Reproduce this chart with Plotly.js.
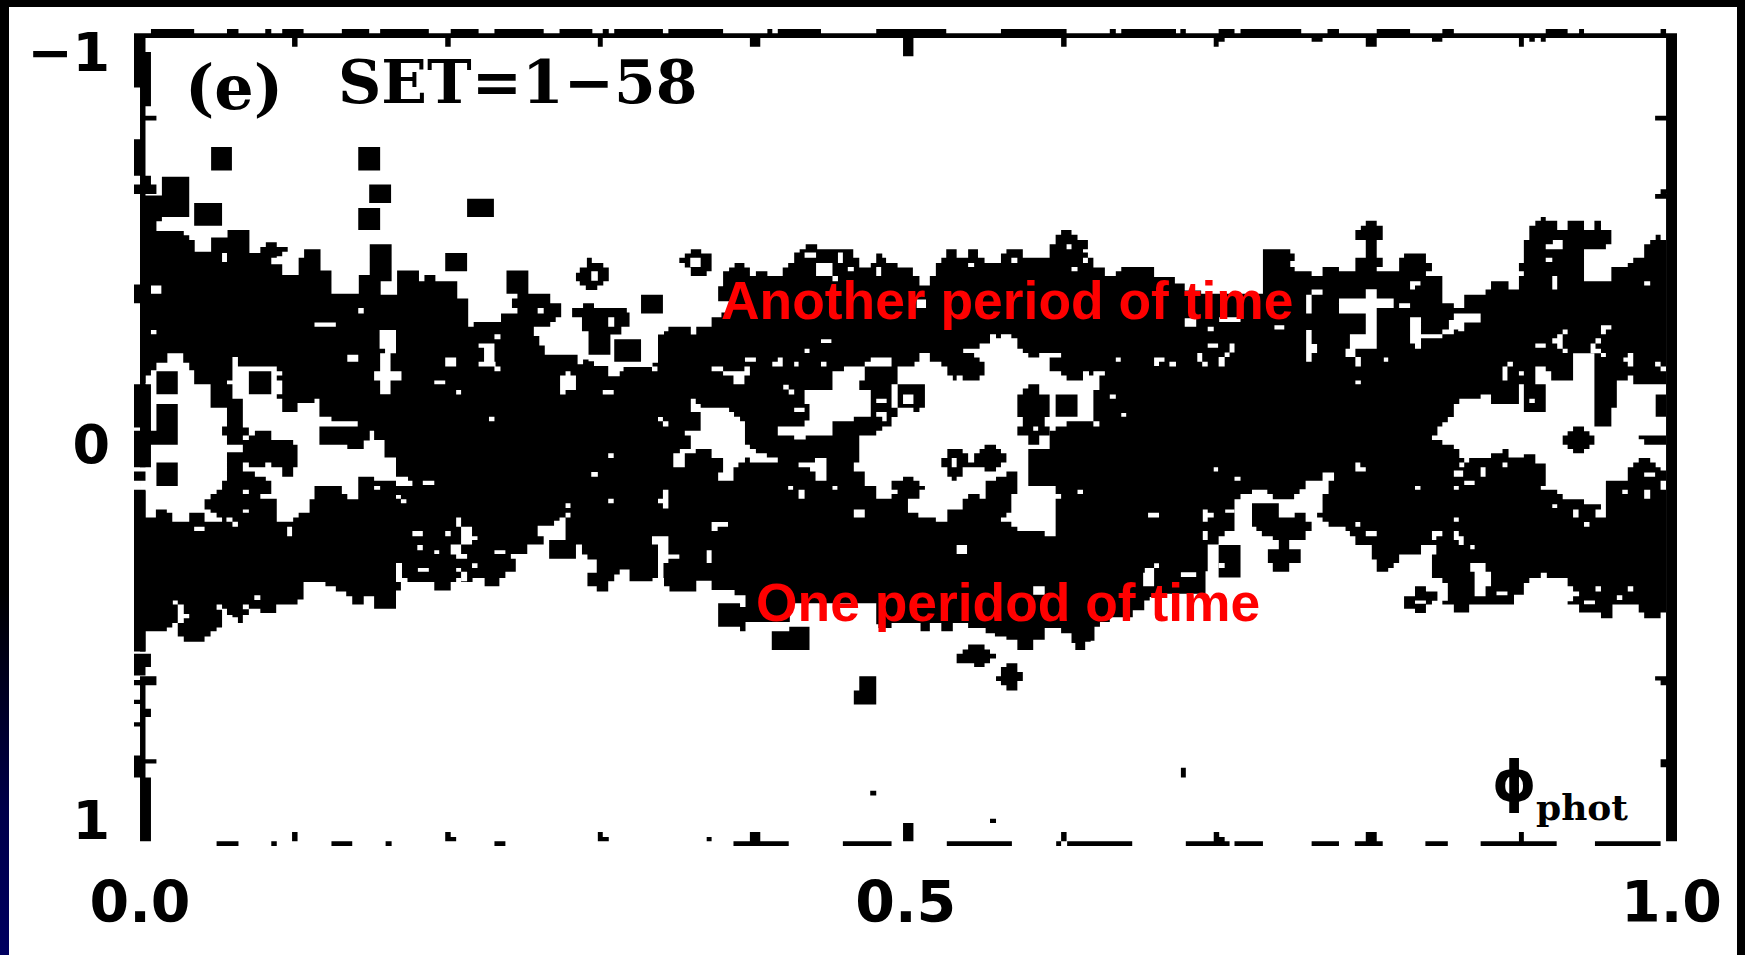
<!DOCTYPE html>
<html><head><meta charset="utf-8">
<script src="https://cdn.plot.ly/plotly-3.0.1.min.js"></script>
<style>
html,body{margin:0;padding:0;background:#fff;width:1745px;height:955px;overflow:hidden}
#plot{position:absolute;left:0;top:0;width:1745px;height:955px}
.bar{position:absolute;pointer-events:none}
</style></head><body>
<div id="plot"></div>
<div class="bar" style="left:0;top:0;width:1745px;height:7px;background:#000"></div>
<div class="bar" style="left:0;top:0;width:9px;height:955px;background:linear-gradient(#000 0,#000 62%,#00004a 85%,#000060 100%)"></div>
<div class="bar" style="left:1737px;top:0;width:8px;height:955px;background:#000"></div>
<script>
// All marks in raster bins: column 0..280 spans phase 0..1, row 0..172 spans phi -1..1.
var binsX = 280, binsY = 172;
var xTickValues = [0, 0.5, 1], xTickLabels = ["0.0", "0.5", "1.0"];
var yTickValues = [-0.96, 0.012, 0.945], yTickLabels = ["\u22121", "0", "1"];

var bandUpperEdge = [[0,34],[4,34],[4,30],[9,30],[9,38.6],[5,38.6],[4,39.5],[3,41.6],[8,42.5],[9,43.5],[10,46],[13,46],[13,43],[16,43],[16,41.4],[20,41.4],[20,46.3],[22,45],[23,44],[25,43.5],[25,45],[27,46],[26,47],[25,47.3],[24,48.7],[26,51],[29,51],[29,48.7],[29,47.3],[30,45.5],[31,45.5],[33,47.3],[33,50],[35,51],[35,55],[37,56],[37,55],[40,55],[40,51],[42,51],[42,44.4],[46,44.4],[46,52.3],[44,52.3],[44,55.2],[47,55.2],[47,50],[51,50],[51,52.3],[52,52.3],[52,51],[54,51],[54,52.3],[58,53.2],[58,56],[60,57],[60,62],[61,61],[66,61],[66,59.2],[68,59.2],[69,58],[68,56],[69,55],[67,55],[67,50],[71,50],[71,55],[73,55],[75,57],[77,58.4],[77,60],[76,61],[75,62],[73,62],[72,64],[73,66],[74,68],[80,68],[80,70],[81,69],[82,70],[82,63],[80.8,60],[79,59],[79,58],[81,58],[81,57],[83,57],[83,58],[88,58],[89,59],[89.5,60],[89.5,62],[88.4,62],[88,63.7],[86,63.7],[86,68],[82,68],[82,69.4],[83,70.4],[85.6,70.4],[85.6,72.6],[87.4,72.6],[87.7,71.5],[88.4,70.6],[92.6,70.6],[93.7,69.7],[94.7,68.7],[94.7,63.7],[95.8,63],[96.6,62],[99.6,62],[100.7,63.7],[101.7,63.7],[101.7,62],[102.5,62],[104.5,60],[106.3,59],[107.7,56.6],[105.7,55],[105.7,53.4],[106.6,50.2],[107.7,49.4],[108.7,48.4],[109.5,48.4],[110.5,49.4],[111.5,51.2],[112.6,50.2],[114.7,50.2],[114.7,51.2],[116.6,51.2],[117.5,49.4],[118.5,48.4],[119.6,46.2],[120.6,45.5],[121.7,44.4],[123.4,44.4],[123.8,45.5],[130.4,45.5],[130.4,47.3],[131.5,49.4],[133.4,49.4],[133.6,48.4],[134.6,46.4],[135.7,47.3],[136.4,48.4],[138.5,48.4],[138.5,49.4],[140.4,49.4],[141.3,51.2],[142.5,52.3],[142.5,53.2],[143.4,53.2],[144.4,51.2],[145.5,48.4],[146.5,47.3],[147.4,45.5],[148.4,45.5],[149.3,47.3],[150.7,47.3],[151.4,45.5],[152.5,45.5],[153.2,47.3],[154.4,48.4],[156.5,48.4],[157.4,46.4],[158.4,45.5],[160.4,45.5],[161.4,47.3],[165.4,47.3],[166.3,46.4],[166.3,44.4],[167.4,42.4],[168.4,41.4],[170.3,41.4],[170.3,42.4],[171.4,43.5],[173.3,44.4],[173.3,45.5],[172.4,46.2],[173.3,47.3],[174.3,48.4],[174.3,49.4],[175.4,49.4],[176.4,51.2],[177.3,51.2],[178.4,50.2],[179.4,49.3],[185.4,49.3],[185.4,51.4],[188.3,51.4],[189.2,52.8],[191,54.3],[194,55],[205.3,55],[205.3,45.5],[210.3,45.5],[210.3,46.4],[211.1,46.4],[211.1,48],[210.3,48.4],[210.3,49.3],[211.1,50.2],[214.2,50.2],[214.2,51.2],[215.2,51.2],[216.2,49.3],[219.2,49.3],[219.2,50.2],[222.2,50.2],[222.2,47.3],[223.2,47.3],[224.1,46.4],[224.1,43.5],[222.2,43.5],[222.2,41.4],[223.2,40.5],[224.1,39.4],[226.1,39.4],[226.1,40.5],[227.2,41.4],[227.2,43.5],[226.1,43.5],[226.1,47.3],[227.2,47.3],[227.2,49.3],[226.1,50.2],[230.2,50.2],[230.2,48.4],[229.3,48.4],[230.2,47.3],[231.1,46.4],[234.1,46.4],[235.1,48.4],[236.2,48.4],[236.2,50.2],[235.1,51.2],[238.1,51.2],[238.1,57],[240.2,57],[240.2,58],[242.1,58],[242.1,55.2],[245.1,55.2],[246,54.1],[247,52.3],[249.1,52.3],[250.2,54.1],[252.1,54.1],[252.1,51.2],[253,50.2],[252.1,48.4],[253,47.3],[253,43.5],[254,43.5],[254,40.5],[255.1,39.4],[256.1,38.6],[257,38.6],[257,39.4],[259.1,40.5],[259.1,41.4],[260.1,41.4],[261,39.4],[263.1,39.4],[264,41.4],[265.9,41.4],[265.9,39.4],[267.1,39.4],[267.1,41.4],[269,41.4],[269,44.4],[268,44.4],[268,45.5],[264,45.5],[264,52.3],[268,52.3],[269,51.2],[269,49.3],[272,49.3],[272,48.4],[273,47.3],[275,47.3],[275,44.4],[276.1,43.5],[277.1,42.4],[278,42.4],[278,43.5],[281,43.5]];

var bandLowerEdge = [[279,123],[278,123],[278,124.2],[276,124.2],[275,123],[274,121.3],[271.2,121.3],[269.2,122.4],[269.2,124.2],[267.1,124.2],[267.1,123],[264,123],[263.1,121.3],[261,120.6],[262,119.5],[263.1,118.5],[262,117.4],[261,115.6],[259.1,115.6],[257.2,114.5],[256.1,115.6],[254,116.7],[253,116.7],[253,119.2],[251.2,121.3],[247,121.3],[246,121.3],[244,121.3],[243,123],[241,123],[240.2,121.3],[238.1,120.5],[239.1,118.5],[239.1,116.7],[238.1,115.6],[237.2,115.6],[236.2,113.8],[236.2,110.6],[237,108.6],[235.1,108.6],[234.2,110.6],[230.2,110.6],[230.2,112.4],[229.2,113.5],[228.2,114.3],[226.1,114.3],[226.1,111.7],[225.2,110.6],[225.2,108.6],[222.2,108.6],[222.2,106.7],[221.2,105.6],[220.4,104.7],[218.3,104.7],[217.3,103.6],[216.2,102.7],[215.2,101.7],[216.2,101],[216.2,97.7],[217.3,94.9],[218.3,93.1],[217.2,93.1],[216.2,94.9],[213.1,94.9],[213.1,96.7],[212,97.7],[211,98.8],[207.1,97.7],[206.1,96.8],[204.2,96.8],[203.3,97.7],[201.2,98.8],[200.1,99.7],[200.1,105.6],[198.3,106.7],[197.2,108.5],[195.2,108.5],[195.2,114.2],[194.8,119],[186.7,119.7],[184.6,120.4],[183.6,122.5],[181.5,124],[177.3,125],[175.5,126],[174.5,127.2],[174.5,129],[173.8,129.2],[172.8,131],[171,129.5],[170.3,127.4],[168.4,126.3],[165.4,126.3],[165.4,128.8],[163.3,131],[160.4,131],[160.4,128.8],[158.4,128.1],[156.3,127.4],[154.6,126.3],[151.4,125.2],[148.6,127],[146.5,125.2],[144.4,127],[142.7,125.2],[138.5,125.2],[137.4,126.3],[135,125.5],[134.6,125.5],[134.6,121],[118.8,121],[118.8,125],[112.5,125],[110.7,126],[110.7,127],[109.7,127],[109.7,126],[105.7,126],[105.7,121],[109.7,121],[109.7,121.8],[110.7,121.8],[110.7,119.3],[108.7,119.3],[108.7,118.2],[105.5,118.2],[104.5,117.2],[104.5,116.2],[101.7,116.7],[101.7,118.5],[97.9,118.5],[96.8,117.4],[95.8,115.6],[93.7,116.3],[89.5,116.3],[89.5,113.8],[88.7,113.8],[87.7,114.9],[86.7,116.3],[85.6,117.4],[85.6,118.5],[83.5,118.5],[83.5,117.4],[81.8,116.3],[81.8,114.5],[83.5,113.5],[83.5,111.7],[81.8,110.6],[80.8,109.5],[80.8,108.5],[79.7,108.5],[79.7,111.5],[74.8,111.5],[74.8,107.5],[77.8,107.5],[77.8,102.7],[76.7,103.4],[75.7,104.5],[72.7,104.9],[72.7,106.7],[73.8,106.7],[73.8,108.5],[70.8,108.6],[70.8,110.5],[66.8,110.5],[67.8,111.5],[68.7,112.4],[68.7,114.3],[67.8,114.3],[66.8,115.6],[65.7,117.4],[64,117.4],[63,115.6],[60.8,116.5],[58.7,115.6],[57.8,116.5],[56.8,118.3],[54.9,118.3],[53.8,116.5],[49.8,116.5],[48.9,115.6],[47.9,115.6],[47.9,112.4],[46.8,113.5],[46.8,116.5],[47.7,116.5],[47.7,118.3],[46.8,118.5],[46.8,122.2],[42.8,122.2],[42.8,119.5],[42,119.5],[40.9,121.3],[39.8,121.3],[38.8,119.5],[37.7,118.5],[35.8,117.4],[33.9,116.5],[32.8,115.6],[32.8,116.5],[29.9,116.5],[29.9,120.2],[28.8,121.3],[26,121.3],[24.9,123.1],[23,123.1],[22,122.2],[19.9,123.5],[18.8,124.2],[18.8,125.2],[17.9,125.2],[17.9,124],[16.9,123.5],[15.9,122.2],[15,121.3],[14,122.4],[15,124.2],[15,126.2],[14,127],[12.9,128.1],[11.8,129.2],[9,129.2],[8,128.1],[6.9,127],[6.9,125.2],[5.9,126.2],[4.9,127],[2,127],[1,126.2],[1,131.3],[0,131.3]];

var holeLeft = [[1,72.4],[2,71.3],[3,69.7],[5,69.7],[5,67.7],[7.9,67.7],[7.9,69.7],[9.9,69.7],[9,70.6],[9,71.3],[9.9,72.4],[9.9,74.3],[12.9,74.3],[12.9,79.3],[15.9,79.3],[15.9,83.3],[15,83.5],[15,85.2],[15.9,85.2],[15.9,87.2],[18.8,87.2],[18.8,88.8],[15.9,89.2],[15.9,94.9],[15,94.9],[15,96.8],[14,97.7],[12.9,98.8],[11.8,99.9],[11.8,101],[12.9,101.7],[14,102.7],[15,102.7],[15,103.6],[12.9,103.6],[11.8,101.7],[9.9,101.7],[9,103.6],[6.9,103.6],[5.9,101.7],[4.9,101],[3.9,101],[2.9,102.7],[2,102.7],[1,101.7],[1,97],[0,97],[0,92],[2,92],[2,87.2],[5.9,87.2],[6.9,86],[6.9,78.5],[3.9,78.5],[3,79.5],[3,84.2],[2,84.2],[2,74.3],[1,74.3]];
var holeSecond = [[16.9,68.5],[17.9,68.5],[17.9,70.5],[25,70.5],[25,71.5],[26,71.5],[26,72.4],[25,72.4],[25,73.5],[26,73.5],[26,76.4],[25,76.4],[25,77.4],[26,77.4],[26,78.3],[25,78.3],[26,79.3],[26,80.2],[28.8,80.2],[28.8,78.3],[31.9,78.3],[31.9,77.4],[32.8,77.4],[32.8,81.2],[35,81.2],[35,82.2],[39.8,82.2],[39.8,83.3],[32.8,83.3],[32.8,87.2],[37.9,87.2],[37.9,88.1],[39.8,88.1],[40.9,86.3],[42,86.3],[42,84.2],[42.8,84.2],[42.8,86.2],[44.7,87.2],[44.7,89.9],[46.8,89.9],[46.8,94],[49,94],[49,94.9],[49.8,94.9],[49.8,96],[47.7,96],[46.8,96.8],[46.8,94.9],[42.8,94.9],[42.8,94],[39.9,94],[39.9,98.8],[38.9,98.8],[37.9,97.7],[36.9,96],[32.8,96],[31.9,96.8],[31.9,98.8],[31,98.8],[31,101.7],[29.9,101.7],[29,101],[29,102.7],[28,102.7],[28,103.6],[26,103.6],[25,102.7],[25,98.7],[22,98.7],[22,97.7],[24,96.8],[24,94.9],[23,94],[22,94],[21,92.9],[18.8,94],[18.8,91],[19.9,91],[19.9,92],[22.9,92],[22.9,91],[24,91],[24,92],[26,92.9],[26,94],[28,94],[28,92],[28.8,92],[28.8,87.2],[28,86.2],[24,86.2],[24,84.2],[22,84.2],[21,85.2],[19.9,86.2],[18.8,85.2],[19.9,85.2],[19.9,83.5],[18.8,83.5],[18.8,77.4],[16.9,77.4],[16.9,74.3],[15.9,74.3],[15.9,73.5],[16.9,72.4]];
var holeStar = [[100.7,77.4],[101.6,77.4],[101.6,78.5],[102.5,79.3],[107.7,79.3],[107.7,80.2],[108.6,81.2],[109.7,82.2],[110.6,82.2],[110.6,87.2],[111.5,88.1],[112.6,89],[114.6,89.9],[116.6,89.9],[116.6,91],[111.5,89.9],[110.6,91],[109.4,92],[108.5,93.1],[108.5,94.9],[105.7,94.9],[105.7,93.1],[106.6,93.1],[106.6,90],[104.5,88.1],[102.5,88.1],[101.6,89],[99.6,91],[99.6,92],[96.6,92],[97.5,91],[97.5,89],[98.7,88.1],[100.7,87.2],[100.7,85.2],[99.6,85.2],[99.6,84.2],[102.5,84.2],[102.5,80.2],[100.7,80.2]];
var holeWing = [[116.6,83.3],[121.5,83.3],[121.5,82],[122.4,81.3],[122.4,78.5],[121.5,77.4],[121.5,75.5],[122.4,75.5],[126.6,74.2],[126.6,71.5],[128.7,71.5],[128.7,70.5],[132.5,70.5],[132.5,69.5],[133.6,69.5],[133.6,68.6],[136.4,68.6],[137.4,69.5],[137.4,70.5],[133.6,70.5],[132.5,71.5],[132.5,73.5],[131.5,73.5],[131.5,75.5],[133.6,76.5],[133.6,81.2],[130.5,81.2],[130.5,82.2],[126.6,82.2],[126.6,85.2],[121.7,85.2],[121.7,86.1],[119.6,86.1],[119.6,85.2],[116.6,85.2]];
var holeCentre = [[138.5,70.5],[141.6,70.5],[141.6,69.5],[142.5,69.5],[142.5,67.6],[143.5,67.6],[144.4,69.5],[146.5,69.5],[146.5,70.5],[147.6,71.5],[147.6,72.4],[148.6,73.5],[149.3,72.4],[150.4,72.4],[150.4,73.5],[153.5,73.5],[153.5,72.4],[154.4,72.4],[154.4,69.5],[153.5,68.6],[152.5,67.6],[150.5,67.6],[150.5,66.7],[153.5,66.7],[153.5,65.6],[155.4,64.5],[155.4,63.6],[156.5,63.6],[156.5,64.5],[157.4,64.5],[157.4,63.6],[159.3,63.6],[159.3,64.5],[160.4,65.6],[160.4,66.7],[161.4,67.6],[162.4,68.6],[164.4,68.6],[164.4,67.6],[168.4,67.6],[168.4,68.6],[166.3,68.6],[166.3,71.5],[167.4,71.5],[168.4,72.4],[169.4,73.5],[170.3,74.2],[170.3,73.5],[171.4,73.5],[172.4,72.4],[172.4,71.5],[173.5,71.5],[173.5,72.4],[174.3,72.4],[174.3,71.5],[176.4,71.5],[176.4,72.4],[175.4,72.4],[175.4,75.5],[174.3,75.5],[174.3,82.2],[175.4,82.2],[175.4,83.3],[174.3,83.3],[174.3,82.2],[169.4,82.2],[169.4,83.3],[167.4,83.3],[167.4,84.2],[166.3,84.2],[166.3,88.1],[162.4,88.1],[162.4,96],[167.4,96],[167.4,97.7],[168.4,97.7],[168.4,98.7],[167.4,98.7],[167.4,106.7],[165.4,106.7],[165.4,105.6],[160.4,105.6],[160.4,104.7],[159.3,103.6],[157.4,103.6],[157.4,102.7],[158.4,102.7],[158.4,101.7],[159.3,101.7],[159.3,97.7],[160.4,97.7],[160.4,92.9],[158.4,92.9],[158.4,94],[156.5,94],[156.5,94.9],[155.4,94.9],[154.6,96],[154.6,98.7],[153.5,98.7],[153.5,97.7],[152.5,97.7],[151.4,98.7],[150.4,99.7],[150.4,101],[147.6,101],[147.6,103.6],[145.5,103.6],[145.5,102.7],[142.3,102.7],[142.3,101.7],[140.4,101.7],[140.4,98.7],[142.5,98.7],[142.5,96.8],[143.5,96.8],[143.5,96],[142.5,96],[142.5,94.9],[141.4,94.9],[141.4,94],[140.4,94],[139.5,94.9],[137.4,96],[137.4,96.8],[138.5,96.8],[138.5,97.7],[137.4,98.7],[134.6,98.7],[134.6,96],[132.5,96],[132.5,92.9],[130.5,92.9],[130.5,91],[131.5,91],[131.5,85.2],[134.6,85.2],[134.6,84.2],[135.7,83.3],[137.4,83.3],[137.4,81.3],[138.5,80.2]];
var holeRight = [[236.2,85.2],[237.2,83.3],[238.1,82.4],[239.1,81.3],[240.2,80.2],[240.2,78.5],[241.2,77.4],[245.1,77.4],[245.1,76.5],[247,76.5],[247,78.5],[252.1,78.5],[252.1,74.3],[253,74.3],[253,80.2],[257,80.2],[257,74.3],[255.1,74.3],[255.1,70.5],[257,70.5],[257,71.5],[258,72.4],[258,73.5],[261,73.5],[262,72.4],[262,67.7],[265.9,67.7],[265.9,83.3],[269,83.3],[269,79.3],[270,79.3],[270,73.5],[271,73.5],[272,72.4],[273,71.5],[273,74.3],[279,74.3],[279,76.5],[278,76.5],[277.1,77.4],[277.1,81.2],[279,82.4],[279,85.2],[274,85.2],[274,86],[275,87.2],[279,87.2],[279,92.7],[278,92],[277.1,91],[276.1,90],[275,90],[274,91],[273,92],[272,93.1],[272,94.9],[270,94.9],[268,96],[268,97.7],[269,97.7],[268,98.8],[268,102.7],[266.1,102.7],[266.1,101],[267.1,99.9],[264,98.8],[260.1,97.7],[259.1,96.8],[256.1,96],[257,95.6],[257,91.2],[255.1,90],[255.1,89.2],[253,89.2],[253,89.9],[251.2,89.9],[250.2,89],[250.2,88.1],[249.1,88.1],[249.1,89],[247,89],[247,90],[244,90],[243,91],[242.1,92],[241.2,91],[242.1,90],[241.2,88.1],[240.2,87.2],[238.1,86.2],[236.2,87.2]];
var holeNotch = [[120.4,91],[123.4,91],[123.4,90],[125.5,90],[125.5,94.9],[123.5,94.9],[123.5,92.9],[122.5,92],[120.4,92.9]];
var holeWedge = [[93.6,106.7],[96.6,106.7],[96.6,110.6],[98.6,110.6],[98.6,111.5],[97.5,111.5],[96.6,112.4],[95.7,112.4],[95.7,116],[94.7,116],[94.7,108.5],[93.6,108.5]];

var islandMitre = [[203.3,99.7],[208.2,99.7],[208.2,102.7],[211.1,102.7],[211.1,101.7],[213.1,101.7],[213.1,103.6],[214.2,103.6],[214.2,105.6],[213.1,105.6],[213.1,107.5],[210.1,107.5],[210.1,109.5],[212.2,110.6],[212.2,112.4],[211.1,112.4],[210.1,114.3],[208.2,114.3],[207.1,112.4],[206.2,111.5],[206.2,109.5],[208.2,109.5],[208.2,107.5],[207.1,106.7],[205.1,105.6],[204.1,104.7],[203.3,104.7]];
var islandTall = [[162.4,74.3],[164.4,74.3],[164.4,76.5],[166.3,77.4],[166.3,81.3],[165.4,83.3],[166.3,85.2],[164.4,87.2],[162.4,87.2],[162.4,85.2],[160.4,84.2],[160.4,83.3],[161.4,83.3],[161.4,81.3],[160.4,79.3],[160.4,76.5],[161.4,75.2]];
var islandRingA = [[147.6,88.1],[150.4,88.1],[150.4,89],[151.4,90],[151.4,91],[152.5,91],[152.5,92],[150.4,92.9],[150.4,94],[149.3,94],[149.3,94.9],[148.4,94.9],[148.4,94],[147.6,94],[147.6,92],[146.5,92],[146.5,90],[147.6,89]];
var islandDiamond = [[154.4,87.2],[156.5,87.2],[156.5,88.1],[157.4,89],[158.4,90],[158.4,91],[157.4,92],[156.5,92.9],[154.4,92.9],[154.4,92],[153.5,92],[152.5,91],[152.5,89],[153.5,89],[153.5,88.1]];
var islandRingB = [[138.5,74.3],[142.5,74.3],[143.5,75.4],[143.5,79.3],[142.5,79.3],[142.5,80.2],[141.4,80.2],[141.4,79.3],[138.5,79.3]];
var islandRightHex = [[262,83.3],[264,83.3],[264,84.3],[265,84.3],[265,85.2],[265.9,85.2],[265.9,87.2],[265,87.2],[265,88.1],[264,88.1],[264,89],[262,89],[262,88.1],[261,88.1],[261,87.2],[260.1,87.2],[260.1,85.2],[261,85.2],[261,84.3],[262,84.3]];
var islandRingC = [[231.1,119.5],[233.1,118.5],[233.1,117.4],[235.1,117.4],[235.1,118.5],[237.2,120.5],[238.1,120.5],[236.2,121.3],[235.1,122.2],[235.1,123.1],[233.1,123.1],[233.1,122.2],[231.1,121.3]];
var islandBlobA = [[151.4,129.8],[154.4,129.8],[154.4,130.9],[155.4,131.8],[156.5,131.8],[156.5,132.8],[155.4,132.8],[155.4,133.8],[154.4,133.8],[154.4,134.6],[152.5,134.6],[152.5,133.8],[149.3,133.8],[149.3,131.8],[150.4,131.8],[150.4,130.9]];
var islandBlobB = [[158.4,133.8],[160.4,133.8],[160.4,135.7],[161.4,135.7],[161.4,137.6],[160.4,137.6],[160.4,139.6],[158.4,139.6],[158.4,138.5],[157.4,138.5],[157.4,137.6],[156.5,137.6],[156.5,136.6],[157.4,136.6],[157.4,134.6],[158.4,134.6]];
var islandBlobC = [[131.5,136.6],[134.6,136.6],[134.6,142.6],[130.5,142.6],[130.5,139.6],[131.5,139.6]];
var islandRingD = [[81.7,47.3],[82.6,47.3],[82.6,48.4],[84.7,48.4],[84.7,49.4],[85.7,49.4],[85.7,52.3],[84.7,52.3],[84.7,53.2],[83.6,53.2],[83.6,54.2],[81.5,54.2],[81.5,53.2],[80.4,53.2],[80.4,52.3],[79.7,52.3],[79.7,50.5],[80.4,49.4],[81.7,48.4]];
var islandRingE = [[100.7,45.5],[102.6,45.5],[102.6,46.4],[104.5,46.4],[104.5,50.2],[103.6,50.2],[103.6,51.2],[100.7,51.2],[100.7,49.4],[99.6,49.4],[99.6,48.4],[98.6,48.4],[98.6,47.3],[99.6,47.3],[99.6,46.4],[100.7,46.4]];

// [col0,row0,col1,row1] black cells
var blackCells = [[13,23.7,16.8,28.7],[39.9,23.7,43.9,28.7],[41.9,31.7,45.9,35.6],[39.9,36.7,43.9,41.4],[59.8,34.7,64.7,38.6],[9.9,35.6,15,40.5],[55.8,46.3,59.8,50.2],[91.6,55.2,95.6,59.2],[86.7,64.7,91.6,69.5],[3,71.5,6.9,76.4],[3,91,6.9,96],[19.9,71.5,24,76.4],[167.4,76.5,171.4,81.2],[197.2,108.6,201.2,115.5],[115.5,127,122.4,131],[118.7,126,122.4,127],[133.5,161,134.6,162],[155.4,167,156.5,167.9],[190.3,156.1,191.2,158.2]];
// [col0,row0,col1,row1] white cells inside the black mass
var whiteCells = [[15,46.3,15.9,48.2],[39.9,58,40.9,59.2],[31.9,61.1,35.8,62],[72.7,58,73.8,59.2],[2,53.2,3.9,55],[85.6,60,86.7,62],[121.5,46.2,123.6,47.3],[123.6,48.4,126.6,51.2],[126.6,51.2,127.6,52.3],[127.6,46.2,128.5,48.4],[129.4,49.3,130.5,50.2],[134.6,49.3,135.5,51.2],[151.4,48.4,152.5,49.3],[159.3,47.3,160.4,48.4],[169.4,44.4,170.3,45.5],[172.4,47.3,173.3,48.4],[170.3,49.3,171.4,50.2],[142,56.2,143.7,58],[258.3,43.5,260.1,45.5],[257,44.4,258.3,45.5],[257,47.3,258.2,48.2],[258.2,51.2,259.1,54.1],[275,52.3,276.1,53.2],[232.2,52.3,234.1,53.2],[232.2,53.2,233.1,54.1],[214.2,54.1,216.2,55.2],[213.2,55.2,214.2,59.2],[219.2,56,224.1,59.2],[224.1,54,226.1,66.7],[221.2,63.6,224.1,66.7],[220.4,66.7,222.2,68.5],[222.2,68.5,223.2,70.5],[226.1,56,229.2,58],[230.2,57,232.2,58],[232.2,60,234.2,65.6],[234.2,63.6,238.1,64.5],[233.1,65.6,234.2,66.7],[238.1,62.6,240.2,63.6],[239.3,60.6,242.1,62.6],[240.2,59.2,245.1,61.1],[241,61,242.1,63],[191,60.2,193.1,62],[195.2,62,196.3,63],[197.3,60,201.2,61],[207.4,61.7,209.2,62.6],[267.1,61.7,269,62.6],[267.1,62.6,268,63.6],[195.2,65.6,197.1,66.5],[199.2,65.6,200.1,67.5],[198.3,67.5,199.2,68.5],[197.2,68.5,198.3,70.5],[193.3,67.6,194.2,69.5],[194.2,69.5,195.2,70.5],[185.4,68.6,187.2,69.5],[185.4,69.5,186.3,70.4],[188.2,69.5,189.3,70.5],[213.2,62.7,214.2,69.5],[214.2,65.7,215.2,67.6],[227.4,68.6,228.2,69.5],[222.2,73.5,223.2,74.3],[255.1,65.6,257,66.5],[259.1,63.6,260.1,66.7],[260.1,66.7,261,67.6],[258.2,64.5,259.1,65.6],[260.1,62.6,261,63.6],[265.2,65.6,266.1,66.7],[266.1,64.5,267.1,65.6],[265.2,66.7,267.1,67.7],[267.1,67.6,268,68.5],[272,67.6,273,70.5],[271.2,68.6,272,69.5],[277,69.5,278,70.5],[278,70.5,279,71.5],[249.1,70.5,250,73.5],[250,69.5,251,70.5],[252.1,71.5,253,72.4],[254,77.4,255,78.3],[249.1,91,250,92],[245.1,92,246,94],[242.1,94.9,244,95.8],[240.2,92.7,241.9,94],[233.1,96,234.1,96.8],[240.2,96,241.1,96.8],[222.2,91,223.1,92.9],[222.2,92,224.1,92.9],[196.3,92,197.1,92.9],[200.1,94,201.2,94.9],[258.2,99.9,259.1,100.7],[262,101,263,102.7],[264,103.7,265,104.7],[222.2,103.7,223.1,104.7],[240.2,102.7,241.1,103.6],[224.1,105.6,226.1,106.7],[236.2,105.6,238.1,106.7],[236.2,106.7,237,107.5],[240.2,105.6,241.1,107.5],[241.1,106.7,242,108.6],[243.2,108.6,244,109.5],[243.2,112.4,246,114.3],[244,114.3,247,117.4],[244,117.4,246,119.5],[248,118.5,250,119.3],[264,120.4,266,121.2],[266.1,117.4,267.1,118.5],[272,117.4,273,118.5],[270,119.3,271,120.3],[275,96.8,276.1,98.7],[271,96.8,272,97.7],[278,94.9,279,96.8],[275,93.1,277,94],[194.3,101,195.2,103.6],[195.2,101.7,196.3,102.7],[198.4,101,200.1,101.7],[184.3,101.7,186.3,102.7],[194.3,105.6,195.2,107.5],[185.4,112.5,186.3,113.5],[190.3,114.4,193.1,115.4],[183.7,113.5,185.4,117.4],[197.2,112.4,198.3,113.5],[124.5,64.7,126.4,65.5],[121.5,66.7,122.4,67.6],[110.6,68.6,112.6,69.5],[116.6,68.6,117.5,70.5],[115.6,69.5,116.6,70.5],[119.6,69.5,120.4,70.5],[124.5,69.5,125.5,70.5],[104.5,70.5,106.6,71.5],[106.6,71.5,111.5,72.4],[108.5,72.4,110.5,74.3],[110.5,70.5,111.5,71.5],[93.6,70.5,94.6,71.5],[84.6,75.5,86.6,76.5],[94.7,81.3,95.6,82.2],[95.6,82.2,96.6,83.3],[85.6,89,86.6,90],[82.5,93,83.6,94],[85.6,98.7,86.6,99.7],[95.6,96.8,96.6,100.8],[94.7,98.7,95.6,99.7],[117.6,74.4,118.6,75.4],[118.6,75.4,119.6,76.5],[119.6,79.3,121.5,80.2],[134.6,77.4,136.5,78.3],[134.6,80.2,136.5,81.2],[135.7,81.2,136.5,82.2],[137.4,74.3,138.5,79.3],[118.5,96,119.4,96.8],[120.4,96.8,121.5,98.7],[126.6,96,127.5,96.8],[130.5,101,132.5,102.7],[104.5,103.7,107.5,104.7],[104.5,104.7,105.6,105.6],[103.6,109.7,104.5,112.4],[149.3,108.6,151.2,110.5],[171.4,96.8,172.4,97.7],[184.3,101.8,186.2,102.7],[177.3,76.5,178.4,77.4],[179.4,80.4,180.3,81.2],[178.4,68.6,179.3,69.5],[185.4,68.6,187.3,69.5],[188.4,69.5,189.4,70.5],[185.4,112.7,186.1,113.5],[183.4,114.5,185.4,117.4],[163.3,117.4,165.4,119.2],[163.3,83.3,164.2,84.2],[148.4,90,149.3,92],[139.5,76.5,141.4,78.5],[233.1,120.4,235.1,121.1],[82.5,50.2,83.7,52.2],[100.6,47.3,102.5,49.3],[2,62.7,3,63.6],[44.8,62.7,46.8,67.7],[43.8,62.7,44.8,66.7],[43.9,67.7,45.8,76.4],[42.8,71.5,47.8,73.5],[37.9,68,39.9,69.5],[53.8,73.5,55.8,74.3],[55.8,68.6,57.8,70.5],[57.8,75.5,58.7,76.5],[61.9,65.6,64.8,66.5],[62.9,66.5,64.8,69.5],[61.9,69.5,65,70.5],[64.8,63.6,65.9,64.7],[64.8,70.5,65.9,71.5],[63.8,81.2,64.8,82.2],[76.8,72.4,79.7,75.5],[77.8,71.5,78.7,72.4],[76.8,75.5,77.8,76.5],[82.7,93,83.7,94],[77.8,99.7,78.7,100.7],[77.8,101.7,78.7,102.7],[51.7,94.9,53.8,95.8],[42.8,96,43.9,96.8],[46.8,97.9,47.7,98.7],[47.7,98.8,48.7,99.7],[18.8,96.8,19.9,97.7],[18.8,101,19.9,101.7],[15.8,102.7,16.9,103.6],[16.9,103.6,17.9,104.7],[9.9,104.7,11.8,105.6],[26.9,104.7,27.8,106.7],[49.8,105.6,51.7,106.7],[55.8,105.6,56.8,106.7],[57.8,102.7,58.7,104.7],[58.7,104.7,60.7,108.5],[60.7,106.7,61.7,107.5],[56.8,108.5,58.7,110.6],[57.8,110.5,59.8,111.5],[50.7,108.6,51.7,109.7],[53.8,109.7,54.7,110.5],[64.8,109.7,66.8,110.5],[60.7,112.5,61.7,113.5],[50.8,113.5,52.8,114.3],[57.8,113.5,58.7,114.3],[58.7,114.3,59.8,116.3],[6,120.4,6.9,121.3],[6.9,121.3,8,125.2],[8,123.3,9,124.2],[20.9,119.3,22,120.3],[18.8,121.3,19.9,122.3]];

// [col0,row0,col1,row1] frame, bins
var frameLeft = [[-1.1,-0.6,1,11],[1,3.4,2,11],[0,11,2,15],[0,15,1,29.8],[1,17,3,18],[-1.1,22,1,29.8],[0,29.8,2,32.7],[-1.1,31.7,3,33.7],[0,33.7,1,53],[-1.1,53,2,57],[0,57,1,74],[-1.1,74.3,1,83.5],[-1.1,84.2,1,92],[-1.1,92.9,1,94.9],[-1.1,96.8,1,131.3],[-1.1,131.8,2,134.6],[-1.1,134.6,1,136.4],[0,136.6,3,138.5],[-1.1,137.4,0,138.5],[0,138.5,1,153.5],[-1.1,141.6,0,142.5],[1,143.5,2,145.3],[-1.1,146.4,0,147.3],[-1.1,153.5,1,158.2],[1,154.3,3,155.2],[0,158.2,2,171.8]];
var frameTop = [[-1.1,-0.6,281,0.4],[2,-1.5,9.9,-0.6],[15.9,-1.5,18,-0.6],[22.9,-1.5,24,-0.6],[26,-1.5,29.9,-0.6],[36.9,-1.5,41.9,-0.6],[43.9,-1.5,52.8,-0.6],[56.8,-1.5,61.9,-0.6],[64.8,-1.5,73.8,-0.6],[76.7,-1.5,82.7,-0.6],[84.6,-1.5,85.7,-0.6],[86.7,-1.5,95.6,-0.6],[96.6,-1.5,106.6,-0.6],[114.7,-1.5,115.6,-0.6],[116.6,-1.5,124.5,-0.6],[134.6,-1.5,147.4,-0.6],[157.4,-1.5,169.4,-0.6],[177.3,-1.5,178.4,-0.6],[179.4,-1.5,189.4,-0.6],[190.2,-1.5,191.2,-0.6],[197.2,-1.5,200.1,-0.6],[201.2,-1.5,212.3,-0.6],[217.1,-1.5,219.2,-0.6],[226.1,-1.5,232.2,-0.6],[238.1,-1.5,240.2,-0.6],[257,-1.5,261,-0.6],[263.1,-1.5,264,-0.6],[278,-1.5,279,-0.6],[27.8,0.4,28.8,2.3],[55.8,0.4,56.8,2.3],[83.7,0.4,84.6,2.3],[111.5,0.4,113.4,2.3],[139.5,0.4,141.4,4.3],[168.4,0.4,169.4,2.3],[196.3,0.4,197.2,2.3],[197.2,0.4,198.3,1.2],[214.2,0.4,216.2,1.2],[224.1,0.4,226.1,2.3],[236.2,0.4,238.1,1.2],[252.1,0.4,253,2.3],[254,0.4,255,1.2],[256.1,0.4,257,1.2]];
var frameRight = [[279,-0.6,281,171.8],[277,17,279,18],[278,32.7,279,33.7],[277,33.7,279,34.7],[277,136.6,279,137.5],[278,137.5,279,138.5],[278,154.3,279,156]];
var frameBottom = [[14,171.8,18,172.8],[24,171.8,25,172.8],[27.8,169.8,28.8,171.8],[35,171.8,38.8,172.8],[44.9,171.8,46,172.8],[55.8,169.8,56.8,171.8],[55.8,170.9,57.8,171.8],[64.8,171.8,66.8,172.8],[83.7,169.8,84.6,171.8],[83.7,170.9,85.7,171.8],[103.6,170.9,104.5,171.8],[108.5,171.8,118.6,172.8],[111.5,169.8,113.4,171.8],[128.5,171.8,137.4,172.8],[139.5,167.9,141.4,171.8],[147.5,171.8,159.4,172.8],[167.5,171.8,168.4,172.8],[168.4,169.8,169.4,171.8],[169.5,171.8,181.4,172.8],[191.2,171.8,199.2,172.8],[196.3,169.8,197.3,171.8],[197.3,170.9,198.3,171.8],[200.1,171.8,205.3,172.8],[214.2,171.8,219.2,172.8],[222.1,171.8,227.2,172.8],[224.1,169.8,226.1,171.8],[235,171.8,239.1,172.8],[245.1,171.8,259,172.8],[252.1,169.8,253,171.8],[266,171.8,278,172.8]];

var labelPanel = "(e)", labelSet = "SET=1\u221258", labelPhi = "\u03d5", labelPhot = "phot";
var noteUpper = "Another period of time", noteLower = "One peridod of time";

function X(c){return c/binsX;}
function Y(r){return 2*r/binsY-1;}
function polys(list){var xs=[],ys=[];list.forEach(function(p){p.forEach(function(v){xs.push(X(v[0]));ys.push(Y(v[1]));});xs.push(X(p[0][0]));ys.push(Y(p[0][1]));xs.push(null);ys.push(null);});return {x:xs,y:ys};}
function cells(list){return polys(list.map(function(q){return [[q[0],q[1]],[q[2],q[1]],[q[2],q[3]],[q[0],q[3]]];}));}
function layer(d,color,shape){return {type:"scatter",mode:"lines",x:d.x,y:d.y,fill:"toself",fillcolor:color,line:{width:0,color:color,shape:shape||"hv"},hoverinfo:"skip",showlegend:false,cliponaxis:false};}

var traces = [
 layer(polys([bandUpperEdge.concat(bandLowerEdge)]),"#000"),
 layer(polys([holeLeft,holeSecond,holeStar,holeWing,holeCentre,holeRight,holeNotch,holeWedge]),"#fff"),
 layer(polys([islandMitre,islandTall,islandRingA,islandDiamond,islandRingB,islandRightHex,islandRingC,islandBlobA,islandBlobB,islandBlobC,islandRingD,islandRingE]),"#000"),
 layer(cells(blackCells),"#000","linear"),
 layer(cells(whiteCells),"#fff","linear"),
 layer(cells(frameLeft.concat(frameTop,frameRight,frameBottom)),"#000","linear")
];

var serif = "DejaVu Serif, serif", sans = "DejaVu Sans, sans-serif", red = "Liberation Sans, Arial, sans-serif";
function note(text,x,y,family,size,color,bold){return {text:bold?"<b>"+text+"</b>":text,x:x,y:y,xref:"x",yref:"y",showarrow:false,xanchor:"center",yanchor:"middle",font:{family:family,size:size,color:color}};}
var layout = {
 width:1745,height:955,paper_bgcolor:"#fff",plot_bgcolor:"#fff",showlegend:false,
 margin:{l:134,r:68,t:29,b:109.2,pad:0},
 xaxis:{range:[X(-1.1),X(281)],showgrid:false,zeroline:false,showline:false,ticks:"",tickmode:"array",tickvals:xTickValues,ticktext:xTickLabels,tickangle:0,ticklabelstandoff:18,tickfont:{family:sans,size:57,color:"#000",weight:700},fixedrange:true},
 yaxis:{range:[Y(172.8),Y(-1.5)],showgrid:false,zeroline:false,showline:false,ticks:"",tickmode:"array",tickvals:yTickValues,ticktext:yTickLabels,tickangle:0,ticklabelstandoff:23,tickfont:{family:sans,size:54,color:"#000",weight:700},fixedrange:true},
 annotations:[
  note(labelPanel,0.0613,-0.873,serif,62,"#000",true),
  note(labelSet,0.2465,-0.886,serif,60,"#000",true),
  note(labelPhi,0.8977,0.849,sans,56,"#000",true),
  note(labelPhot,0.9413,0.913,serif,36,"#000",true),
  note(noteUpper,0.566,-0.345,red,53.4,"#ff0000",true),
  note(noteLower,0.567,0.404,red,53.4,"#ff0000",true)
 ]
};
Plotly.newPlot("plot",traces,layout,{displayModeBar:false,staticPlot:true});
</script></body></html>
